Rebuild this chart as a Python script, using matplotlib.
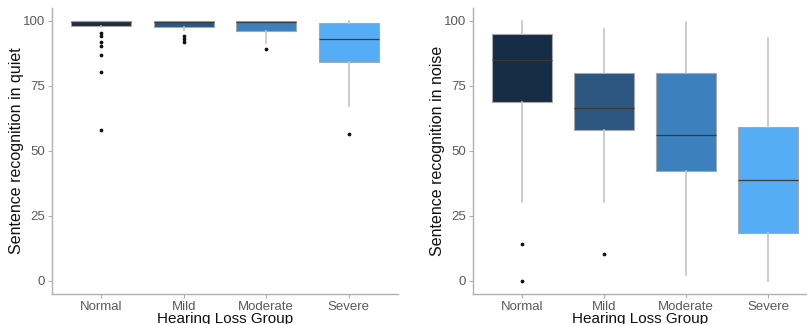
import matplotlib
matplotlib.use("Agg")
from matplotlib import pyplot as plt

groups = ["Normal", "Mild", "Moderate", "Severe"]
colors = ["#172C47", "#2A5680", "#3D80BE", "#55AEF5"]

# sentence recognition in quiet
quiet_q1 = [98.1, 97.7, 96.0, 84.1]
quiet_med = [99.6, 99.6, 99.5, 92.9]
quiet_q3 = [100, 100, 100, 99.0]
quiet_lo = [97.5, 96.5, 91.3, 67.3]
quiet_hi = [100, 100, 100, 100]
quiet_out = [
    [95.2, 94.1, 91.6, 90.4, 86.9, 80.1, 58.1],
    [93.9, 92.9, 91.6],
    [89.0],
    [56.5],
]

# sentence recognition in noise
noise_q1 = [68.7, 57.9, 42.3, 18.3]
noise_med = [84.8, 66.3, 56.0, 38.7]
noise_q3 = [94.8, 79.8, 79.8, 59.0]
noise_lo = [30.2, 30.2, 2.2, 0.0]
noise_hi = [100, 96.8, 99.4, 93.2]
noise_out = [[14.1, 0.0], [10.3], [], []]

plt.rcParams["font.family"] = ["Liberation Sans", "DejaVu Sans"]


def make_stats(q1, med, q3, lo, hi, out):
    return [
        dict(q1=a, med=m, q3=b, whislo=l, whishi=h, fliers=f, label=g)
        for a, m, b, l, h, f, g in zip(q1, med, q3, lo, hi, out, groups)
    ]


def draw_panel(ax, stats, ylabel, xmax):
    bp = ax.bxp(
        stats, positions=range(1, len(stats) + 1), widths=0.73,
        patch_artist=True, showcaps=False,
        boxprops=dict(edgecolor="#a8a8a8", linewidth=0.8),
        whiskerprops=dict(color="#c4c4c4", linewidth=1.2),
        medianprops=dict(color="#3a3a3a", linewidth=0.9),
        flierprops=dict(marker="o", markersize=1.7, markerfacecolor="#111111",
                        markeredgecolor="#111111", linestyle="none"),
    )
    for patch, c in zip(bp["boxes"], colors):
        patch.set_facecolor(c)
        patch.set_zorder(2)
    ax.set_xlim(0.4, xmax)
    ax.set_ylim(-5, 105)
    ax.set_yticks([0, 25, 50, 75, 100])
    ax.set_xticks(range(1, len(groups) + 1))
    ax.set_xticklabels(groups)
    for side in ["top", "right"]:
        ax.spines[side].set_visible(False)
    for side in ["left", "bottom"]:
        ax.spines[side].set_color("#b0b0b0")
        ax.spines[side].set_linewidth(1.0)
    ax.tick_params(axis="both", colors="#b0b0b0", labelcolor="#5a5a5a",
                   labelsize=9.5, length=3, width=0.8, pad=2)
    ax.set_xlabel("Hearing Loss Group", fontsize=11, color="#111111", labelpad=-1)
    ax.set_ylabel(ylabel, fontsize=11.5, color="#111111", labelpad=-1)


fig = plt.figure(figsize=(8.07, 3.24), dpi=100)
ax1 = fig.add_axes([0.0644, 0.0926, 0.4288, 0.884])
ax2 = fig.add_axes([0.5857, 0.0926, 0.4143, 0.884])

draw_panel(ax1, make_stats(quiet_q1, quiet_med, quiet_q3, quiet_lo, quiet_hi, quiet_out),
           "Sentence recognition in quiet", 4.6)
draw_panel(ax2, make_stats(noise_q1, noise_med, noise_q3, noise_lo, noise_hi, noise_out),
           "Sentence recognition in noise", 4.47)

fig.savefig("out.png", dpi=100)
